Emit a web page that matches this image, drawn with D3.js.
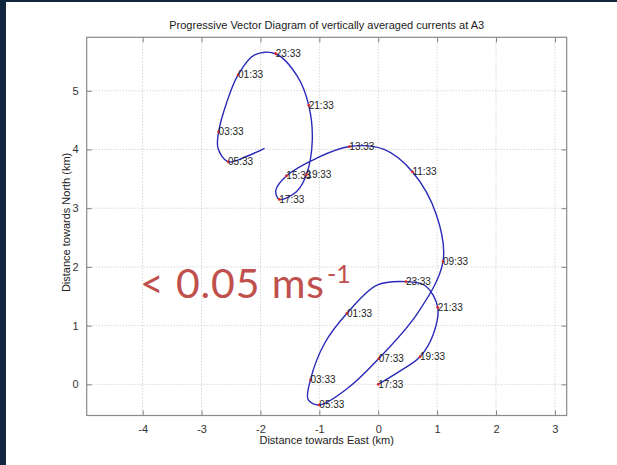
<!DOCTYPE html>
<html>
<head>
<meta charset="utf-8">
<script src="https://cdn.jsdelivr.net/npm/d3@7"></script>
<style>
  html, body { margin: 0; padding: 0; background: #ffffff; }
  svg { display: block; }
</style>
</head>
<body>
<div id="chart"></div>
<script>
// Hourly positions of the progressive vector (km)
const times = [
  "17:33", "18:33", "19:33", "20:33", "21:33", "22:33", "23:33", "00:33",
  "01:33", "02:33", "03:33", "04:33", "05:33", "06:33", "07:33", "08:33",
  "09:33", "10:33", "11:33", "12:33", "13:33", "14:33", "15:33", "16:33",
  "17:33", "18:33", "19:33", "20:33", "21:33", "22:33", "23:33", "00:33",
  "01:33", "02:33", "03:33", "04:33", "05:33", "06:33", "07:00",
];
const east = [
  0.0, 0.36, 0.71, 0.93, 1.01, 0.8, 0.47, -0.02,
  -0.53, -0.91, -1.15, -1.19, -1.0, -0.5, 0.01, 0.66,
  1.1, 0.99, 0.58, 0.1, -0.49, -1.05, -1.56, -1.74,
  -1.68, -1.39, -1.22, -1.12, -1.18, -1.37, -1.74, -2.1,
  -2.38, -2.57, -2.71, -2.72, -2.55, -2.24, -1.93,
];
const north = [
  0.0, 0.22, 0.47, 0.84, 1.31, 1.68, 1.75, 1.69,
  1.21, 0.7, 0.08, -0.26, -0.35, -0.05, 0.44, 1.2,
  2.09, 2.88, 3.62, 4.0, 4.05, 3.85, 3.55, 3.3,
  3.15, 3.28, 3.57, 4.15, 4.75, 5.24, 5.63, 5.61,
  5.27, 4.81, 4.3, 4.02, 3.79, 3.88, 4.02,
];
// every second hour carries a time label
const labelled = times.map((t, i) => i % 2 === 0 && i < times.length - 2);

const xTicks = [-4, -3, -2, -1, 0, 1, 2, 3];
const yTicks = [0, 1, 2, 3, 4, 5];

const chartTitle = "Progressive Vector Diagram of vertically averaged currents at A3";
const xTitle = "Distance towards East (km)";
const yTitle = "Distance towards North (km)";

function drawChart() {
  const width = 617;
  const height = 465;
  const margin = { top: 37.3, right: 50.3, bottom: 49.5, left: 86.7 };
  const innerWidth = width - margin.left - margin.right;
  const innerHeight = height - margin.top - margin.bottom;
  const font = "Arial, 'Liberation Sans', sans-serif";

  const svg = d3
    .select("#chart")
    .append("svg")
    .attr("width", width)
    .attr("height", height);

  // slide frame
  svg.append("rect").attr("width", width).attr("height", height).attr("fill", "#ffffff");
  svg.append("rect").attr("width", 6).attr("height", height).attr("fill", "#12263f");
  svg.append("rect").attr("width", width).attr("height", 2).attr("fill", "#12263f");

  const xScale = d3.scaleLinear().domain([-4.95, 3.2]).range([0, innerWidth]);
  const yScale = d3.scaleLinear().domain([-0.53, 5.91]).range([innerHeight, 0]);

  const g = svg
    .append("g")
    .attr("transform", `translate(${margin.left}, ${margin.top})`);

  // Grid
  g.selectAll(".xgrid")
    .data(xTicks)
    .join("line")
    .attr("x1", (d) => xScale(d))
    .attr("x2", (d) => xScale(d))
    .attr("y1", 0)
    .attr("y2", innerHeight)
    .attr("stroke", "#c4c4c4")
    .attr("stroke-dasharray", "1,2");
  g.selectAll(".ygrid")
    .data(yTicks)
    .join("line")
    .attr("y1", (d) => yScale(d))
    .attr("y2", (d) => yScale(d))
    .attr("x1", 0)
    .attr("x2", innerWidth)
    .attr("stroke", "#c4c4c4")
    .attr("stroke-dasharray", "1,2");

  // Axes (ticks inside, MATLAB style)
  const styleAxis = (sel) => {
    sel.select(".domain").remove();
    sel.selectAll(".tick line").attr("stroke", "#808080");
    sel.selectAll(".tick text")
      .attr("fill", "#333333")
      .style("font-family", font)
      .style("font-size", "11px");
  };
  const plain = (d) => String(d);
  g.append("g")
    .attr("transform", `translate(0, ${innerHeight})`)
    .call(d3.axisBottom(xScale).tickValues(xTicks).tickSizeInner(-5).tickPadding(10).tickFormat(plain))
    .call(styleAxis);
  g.append("g")
    .call(d3.axisTop(xScale).tickValues(xTicks).tickSizeInner(-5).tickFormat(""))
    .call(styleAxis);
  g.append("g")
    .call(d3.axisLeft(yScale).tickValues(yTicks).tickSizeInner(-5).tickPadding(8).tickFormat(plain))
    .call(styleAxis);
  g.append("g")
    .attr("transform", `translate(${innerWidth}, 0)`)
    .call(d3.axisRight(yScale).tickValues(yTicks).tickSizeInner(-5).tickFormat(""))
    .call(styleAxis);

  g.append("rect")
    .attr("width", innerWidth)
    .attr("height", innerHeight)
    .attr("fill", "none")
    .attr("stroke", "#8a8a8a")
    .attr("stroke-width", 1.2);

  // Track
  const pts = times.map((t, i) => ({ t, x: east[i], y: north[i], lab: labelled[i] }));
  const line = d3
    .line()
    .x((d) => xScale(d.x))
    .y((d) => yScale(d.y))
    .curve(d3.curveCatmullRom.alpha(0.5));
  g.append("path")
    .datum(pts)
    .attr("d", line)
    .attr("fill", "none")
    .attr("stroke", "#2a2ab8")
    .attr("stroke-width", 1.4);

  const marks = pts.filter((d) => d.lab);
  g.selectAll(".mark")
    .data(marks)
    .join("circle")
    .attr("cx", (d) => xScale(d.x))
    .attr("cy", (d) => yScale(d.y))
    .attr("r", 1.4)
    .attr("fill", "#e02828");
  g.selectAll(".lab")
    .data(marks)
    .join("text")
    .attr("x", (d) => xScale(d.x))
    .attr("y", (d) => yScale(d.y) + 3.5)
    .text((d) => d.t)
    .style("font-family", font)
    .style("font-size", "10px")
    .attr("fill", "#222222");

  // Titles
  svg.append("text")
    .attr("x", margin.left + innerWidth / 2)
    .attr("y", 29)
    .attr("text-anchor", "middle")
    .text(chartTitle)
    .style("font-family", font)
    .style("font-size", "11px")
    .attr("fill", "#222222");
  svg.append("text")
    .attr("x", margin.left + innerWidth / 2)
    .attr("y", 444)
    .attr("text-anchor", "middle")
    .text(xTitle)
    .style("font-family", font)
    .style("font-size", "11px")
    .attr("fill", "#222222");
  svg.append("text")
    .attr("transform", `translate(70, ${margin.top + innerHeight / 2 - 4}) rotate(-90)`)
    .attr("text-anchor", "middle")
    .text(yTitle)
    .style("font-family", font)
    .style("font-size", "11px")
    .attr("fill", "#222222");

  // Speed annotation
  const note = svg.append("g")
    .style("font-family", "Lato, 'Open Sans', sans-serif")
    .attr("fill", "#c0504d");
  note.append("text")
    .attr("x", 140)
    .attr("y", 298)
    .attr("textLength", 184)
    .attr("lengthAdjust", "spacing")
    .style("font-size", "41px")
    .text("< 0.05 ms");
  note.append("text")
    .attr("x", 327)
    .attr("y", 283)
    .style("font-size", "25px")
    .text("-1");
}

drawChart();
</script>
</body>
</html>
